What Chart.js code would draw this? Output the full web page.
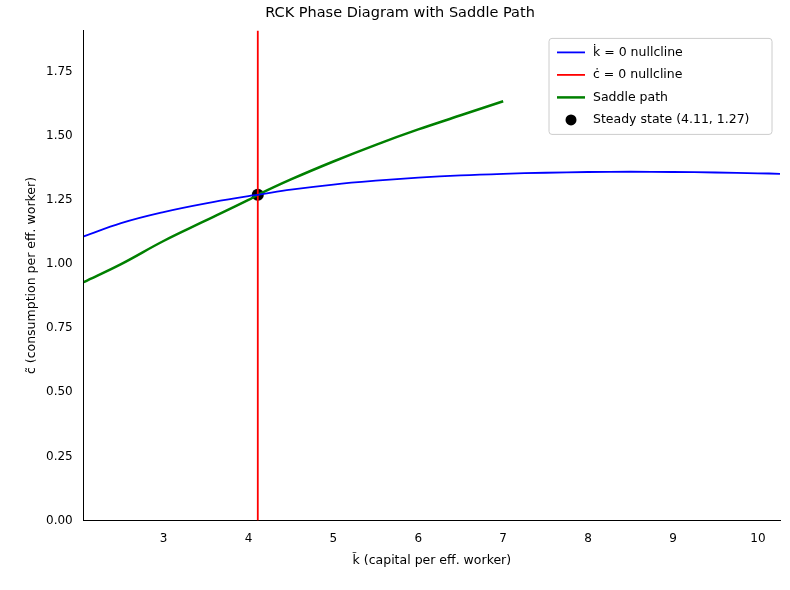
<!DOCTYPE html>
<html><head><meta charset="utf-8">
<script src="https://cdn.jsdelivr.net/npm/chart.js@4"></script>
<style>body{margin:0;background:#fff}</style>
</head><body><canvas id="c" width="790" height="590"></canvas>
<script>
const kNullK = [2.06,2.5,3,3.5,4,4.11,4.5,5,5.5,6,6.5,7,7.5,8,8.5,9,9.5,10,10.26];
const kNullC = [1.108,1.16,1.203,1.237,1.265,1.27,1.29,1.31,1.325,1.337,1.346,1.352,1.356,1.359,1.36,1.359,1.357,1.354,1.352];
const saddleK = [2.06,2.5,3,3.5,4,4.11,4.5,5,5.5,6,6.5,7];
const saddleC = [0.93,1.0,1.09,1.17,1.25,1.27,1.33,1.40,1.465,1.525,1.58,1.635];
const steady = [4.11,1.27];
const xTicks = [3,4,5,6,7,8,9,10];
const yTicks = [0,0.25,0.5,0.75,1.0,1.25,1.5,1.75];
const labels = ['k\u0307 = 0 nullcline','c\u0307 = 0 nullcline','Saddle path','Steady state (4.11, 1.27)'];
const pts=(xs,ys)=>xs.map((x,i)=>({x,y:ys[i]}));
const F='"DejaVu Sans"';
Chart.defaults.font.family=F;Chart.defaults.color='#000';
const legendPlugin={id:'lg',afterDraw(ch){const ctx=ch.ctx,a=ch.chartArea;const w=223,h=96,x=a.right-w-8,y=a.top+8;
ctx.save();ctx.fillStyle='rgba(255,255,255,0.8)';ctx.strokeStyle='#ccc';ctx.lineWidth=1;
ctx.beginPath();ctx.roundRect(x,y,w,h,3);ctx.fill();ctx.stroke();
ctx.font='12.5px '+F;ctx.textBaseline='middle';
const cols=['#0000ff','#ff0000','#008000','#000'];
labels.forEach((t,i)=>{const yy=y+14+i*22.5;ctx.fillStyle='#000';ctx.fillText(t,x+44,yy);
if(i<3){ctx.strokeStyle=cols[i];ctx.lineWidth=i==2?2.5:1.8;ctx.beginPath();ctx.moveTo(x+8,yy);ctx.lineTo(x+36,yy);ctx.stroke();}
else{ctx.beginPath();ctx.arc(x+22,yy,5.5,0,7);ctx.fill();}});ctx.restore();}};
new Chart(document.getElementById('c'),{type:'scatter',
data:{datasets:[
{data:pts(kNullK,kNullC),showLine:true,borderColor:'#0000ff',borderWidth:1.8,pointRadius:0,tension:0.4},
{data:[{x:steady[0],y:0},{x:steady[0],y:1.911}],showLine:true,borderColor:'#ff0000',borderWidth:1.8,pointRadius:0},
{data:pts(saddleK,saddleC),showLine:true,borderColor:'#008000',borderWidth:2.5,pointRadius:0,tension:0.4},
{data:[{x:steady[0],y:steady[1]}],backgroundColor:'#000',pointRadius:6,pointHoverRadius:6}]},
options:{responsive:false,animation:false,devicePixelRatio:1,layout:{padding:{left:20,right:10,top:1,bottom:18}},
plugins:{legend:{display:false},tooltip:{enabled:false},title:{display:true,text:'RCK Phase Diagram with Saddle Path',font:{size:14.5,weight:'normal'},padding:{top:4,bottom:8}}},
scales:{x:{type:'linear',min:2.06,max:10.26,grid:{display:false},border:{color:'#000'},
afterBuildTicks:s=>{s.ticks=xTicks.map(v=>({value:v}))},ticks:{font:{size:12},callback:v=>String(v)},
title:{display:true,text:'k\u0303 (capital per eff. worker)',font:{size:12.5}}},
y:{min:0,max:1.911,grid:{display:false},border:{color:'#000'},
afterBuildTicks:s=>{s.ticks=yTicks.map(v=>({value:v}))},ticks:{font:{size:12},callback:v=>v.toFixed(2)},
title:{display:true,text:'c\u0303 (consumption per eff. worker)',font:{size:12.5}}}}},
plugins:[legendPlugin]});
</script></body></html>
